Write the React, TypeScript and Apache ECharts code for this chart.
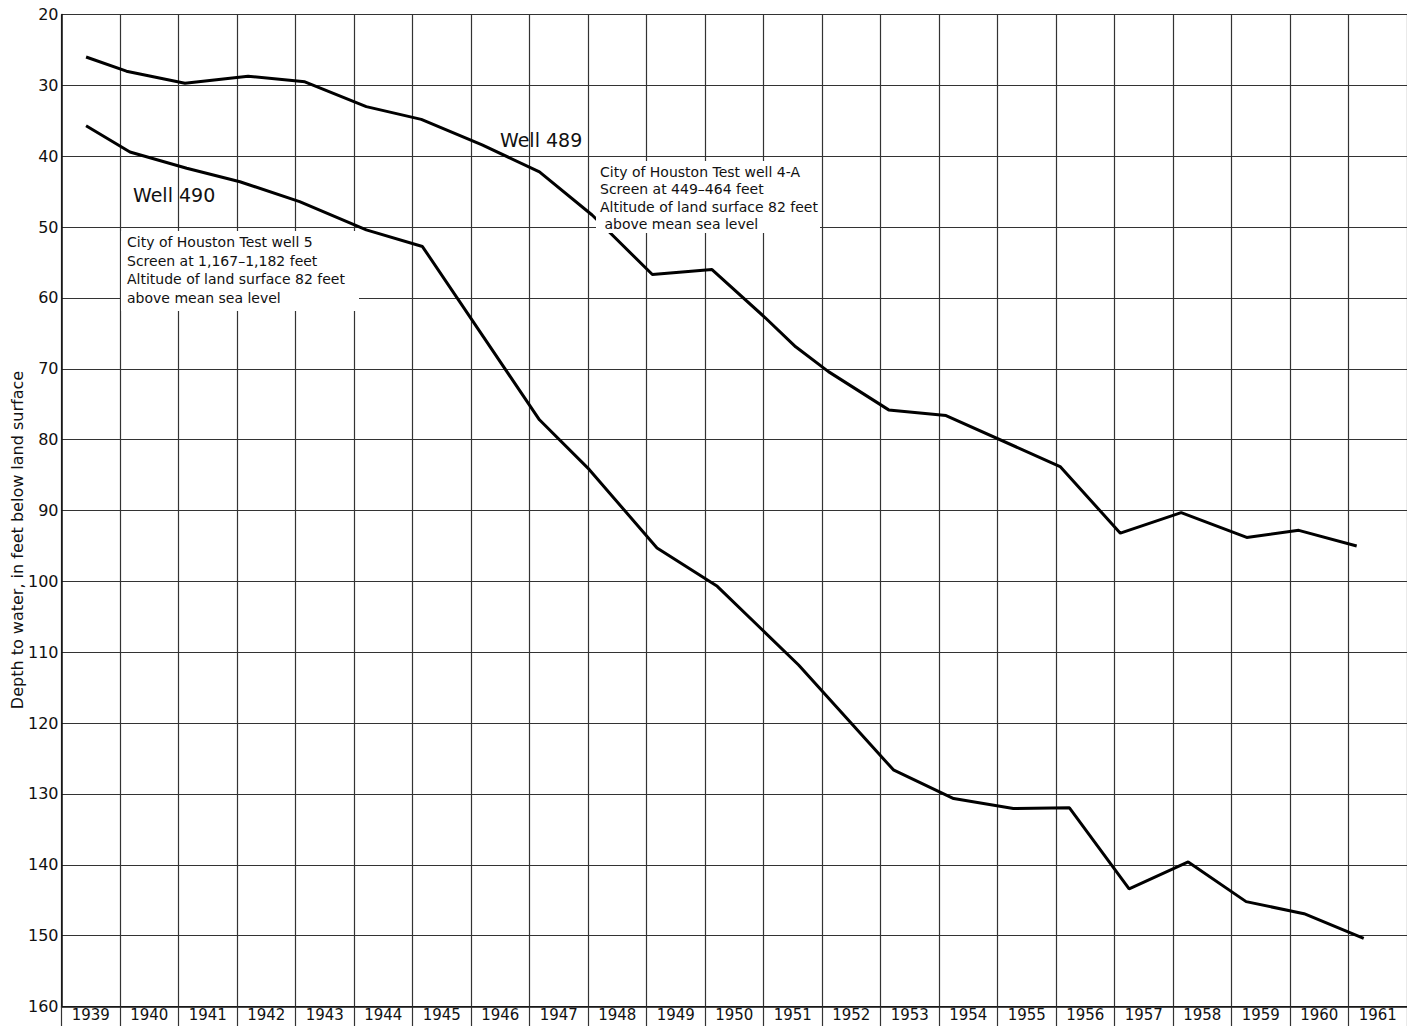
import React, { useEffect, useRef } from "react";
import * as echarts from "echarts";

// Well 489: [decimal year, depth to water (ft below land surface)]
const well489Years = [1939.42, 1940.11, 1941.11, 1942.19, 1943.16, 1944.21, 1945.15, 1946.19, 1947.17, 1948.07, 1949.10, 1950.12, 1951.03, 1951.55, 1952.11, 1953.14, 1954.12, 1956.07, 1957.10, 1958.14, 1959.26, 1960.15, 1961.14];
const well489Depth = [26.0, 28.0, 29.7, 28.7, 29.5, 33.0, 34.8, 38.4, 42.2, 48.3, 56.7, 56.0, 62.8, 66.9, 70.4, 75.8, 76.6, 83.8, 93.2, 90.3, 93.8, 92.8, 95.0];

// Well 490
const well490Years = [1939.42, 1940.17, 1941.14, 1942.05, 1943.07, 1944.21, 1945.17, 1947.17, 1948.02, 1949.18, 1950.21, 1951.60, 1953.22, 1954.25, 1955.27, 1956.23, 1957.25, 1958.26, 1959.25, 1960.24, 1961.26];
const well490Depth = [35.7, 39.4, 41.7, 43.6, 46.4, 50.4, 52.75, 77.2, 84.2, 95.3, 100.7, 111.8, 126.6, 130.65, 132.05, 131.96, 143.4, 139.6, 145.2, 146.9, 150.4];

const yearLabels = ["1939", "1940", "1941", "1942", "1943", "1944", "1945", "1946", "1947", "1948", "1949", "1950", "1951", "1952", "1953", "1954", "1955", "1956", "1957", "1958", "1959", "1960", "1961"];

const yAxisTitle = "Depth to water, in feet below land surface";
const note490 = ["City of Houston Test well 5", "Screen at 1,167\u20131,182 feet", "Altitude of land surface 82 feet", "above mean sea level"];
const note489 = ["City of Houston Test well 4-A", "Screen at 449\u2013464 feet", "Altitude of land surface 82 feet", " above mean sea level"];

const FONT = "'DejaVu Sans', 'Noto Sans', sans-serif";

export default function App() {
  const ref = useRef<HTMLDivElement>(null);
  useEffect(() => {
    if (!ref.current) return;
    const chart = echarts.init(ref.current, undefined, { renderer: "svg" });
    const pairs = (xs: number[], ys: number[]) => xs.map((x, i) => [x, ys[i]]);
    const gridColor = "#333333";
    chart.setOption({
      animation: false,
      backgroundColor: "#ffffff",
      grid: { left: 61.5, top: 14.5, right: 0, bottom: 19.5, containLabel: false, outerBoundsMode: "none" },
      xAxis: [
        {
          type: "value",
          min: 1939,
          max: 1962,
          interval: 1,
          axisLabel: { show: false },
          axisTick: { show: false },
          axisLine: { show: false },
          splitLine: { show: true, lineStyle: { color: gridColor, width: 1.2 } },
        },
        {
          type: "category",
          data: yearLabels,
          position: "bottom",
          boundaryGap: true,
          axisLine: { show: true, lineStyle: { color: "#111", width: 1.5 } },
          axisTick: { show: true, length: 22, lineStyle: { color: gridColor, width: 1.2 } },
          axisLabel: { color: "#111", fontSize: 15, fontFamily: FONT, margin: 1, lineHeight: 15 },
          splitLine: { show: false },
        },
      ],
      yAxis: {
        type: "value",
        inverse: true,
        min: 20,
        max: 160,
        interval: 10,
        axisLine: { show: true, lineStyle: { color: "#111", width: 1.5 } },
        axisTick: { show: false },
        axisLabel: { color: "#111", fontSize: 16, fontFamily: FONT, margin: 3 },
        splitLine: { show: true, lineStyle: { color: gridColor, width: 1.2 } },
      },
      series: [
        {
          name: "Well 489",
          type: "line",
          xAxisIndex: 0,
          data: pairs(well489Years, well489Depth),
          showSymbol: false,
          symbol: "none",
          lineStyle: { color: "#000", width: 3 },
          z: 5,
        },
        {
          name: "Well 490",
          type: "line",
          xAxisIndex: 0,
          data: pairs(well490Years, well490Depth),
          showSymbol: false,
          symbol: "none",
          lineStyle: { color: "#000", width: 3 },
          z: 5,
        },
      ],
      graphic: [
        {
          type: "text",
          x: 17,
          y: 540,
          rotation: Math.PI / 2,
          z: 10,
          style: {
            text: yAxisTitle,
            fill: "#111",
            font: `16px ${FONT}`,
            textAlign: "center",
            textVerticalAlign: "middle",
          },
        },
        {
          type: "text",
          left: 500,
          top: 130,
          z: 10,
          style: { text: "Well 489", fill: "#111", font: `19px ${FONT}` },
        },
        {
          type: "text",
          left: 133,
          top: 185,
          z: 10,
          style: { text: "Well 490", fill: "#111", font: `19px ${FONT}` },
        },
        {
          type: "rect",
          shape: { x: 121, y: 231, width: 238, height: 80 },
          style: { fill: "#fff" },
          z: 8,
        },
        {
          type: "text",
          left: 127,
          top: 233,
          z: 10,
          style: { text: note490.join("\n"), fill: "#111", font: `14px ${FONT}`, lineHeight: 18.5 },
        },
        {
          type: "rect",
          shape: { x: 596, y: 161, width: 224, height: 72 },
          style: { fill: "#fff" },
          z: 8,
        },
        {
          type: "text",
          left: 600,
          top: 163,
          z: 10,
          style: { text: note489.join("\n"), fill: "#111", font: `14px ${FONT}`, lineHeight: 17.5 },
        },
      ],
    });
    return () => chart.dispose();
  }, []);
  return (
    <div
      ref={ref}
      style={{ position: "fixed", left: 0, top: 0, width: 1407, height: 1026, background: "#fff" }}
    />
  );
}
